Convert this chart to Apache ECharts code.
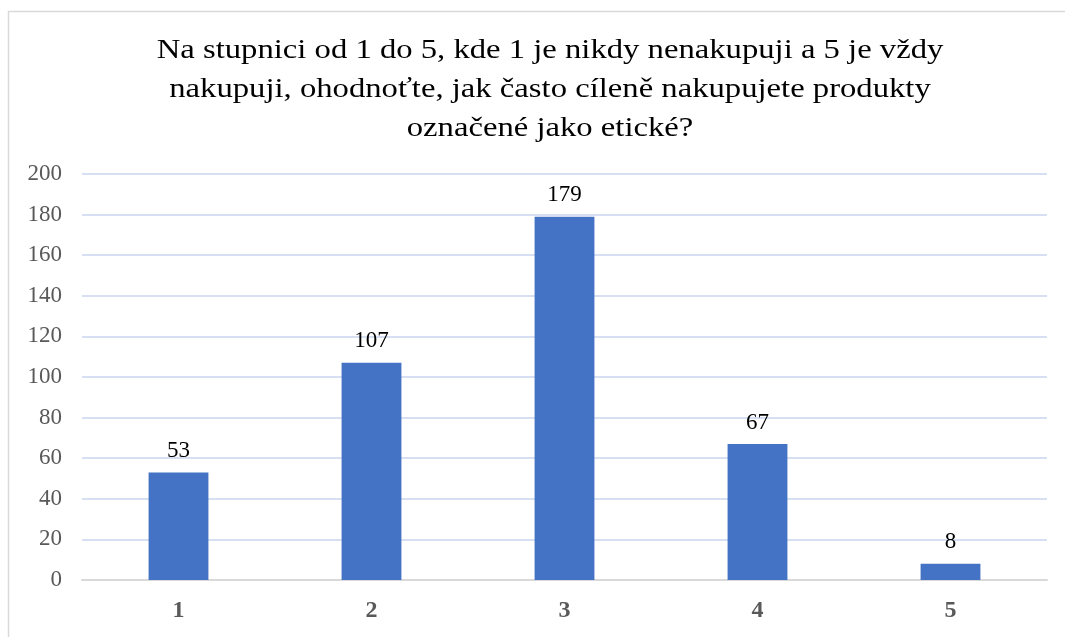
<!DOCTYPE html>
<html>
<head>
<meta charset="utf-8">
<script src="https://cdn.jsdelivr.net/npm/echarts@6/dist/echarts.min.js"></script>
<style>
  html, body { margin: 0; padding: 0; background: #fff; }
  #main { width: 1065px; height: 637px; }
</style>
</head>
<body>
<div id="main"></div>
<script>
var titleText = 'Na stupnici od 1 do 5, kde 1 je nikdy nenakupuji a 5 je vždy\nnakupuji, ohodnoťte, jak často cíleně nakupujete produkty\noznačené jako etické?';
var categories = ['1', '2', '3', '4', '5'];
var counts = [53, 107, 179, 67, 8];
var yTicks = [0, 200, 20]; // min, max, step

var myChart = echarts.init(document.getElementById('main'));

var option = {
    backgroundColor: '#fff',
    animation: false,
    graphic: [{
        type: 'rect',
        shape: { x: 8.5, y: 11.5, width: 1100, height: 700 },
        style: { fill: 'none', stroke: '#d9d9d9', lineWidth: 1.5 },
        silent: true
    }, {
        // title, stretched a bit sideways like the original picture
        type: 'text',
        x: 550,
        y: 90,
        scaleX: 1.21,
        silent: true,
        style: {
            text: titleText,
            align: 'center',
            verticalAlign: 'middle',
            fontFamily: 'Liberation Serif',
            fontSize: 27,
            lineHeight: 39,
            fill: '#000'
        }
    }],
    grid: {
        left: 82,
        right: 18,
        top: 174,
        bottom: 57
    },
    xAxis: {
        type: 'category',
        data: categories,
        axisLine: { lineStyle: { color: '#d9d9d9', width: 2 } },
        axisTick: { show: false },
        axisLabel: {
            fontFamily: 'Liberation Serif',
            fontSize: 24,
            fontWeight: 'bold',
            color: '#595959',
            margin: 19
        }
    },
    yAxis: {
        type: 'value',
        min: yTicks[0],
        max: yTicks[1],
        interval: yTicks[2],
        axisLine: { show: false },
        axisTick: { show: false },
        splitLine: { lineStyle: { color: '#c9d6ee', width: 1.5 } },
        axisLabel: {
            fontFamily: 'Liberation Serif',
            fontSize: 23,
            color: '#595959',
            margin: 20
        }
    },
    series: [{
        type: 'bar',
        data: counts,
        barWidth: '31%',
        itemStyle: { color: '#4472c4' },
        label: {
            show: true,
            position: 'top',
            distance: 10,
            fontFamily: 'Liberation Serif',
            fontSize: 23,
            color: '#000'
        }
    }]
};

myChart.setOption(option);
</script>
</body>
</html>
